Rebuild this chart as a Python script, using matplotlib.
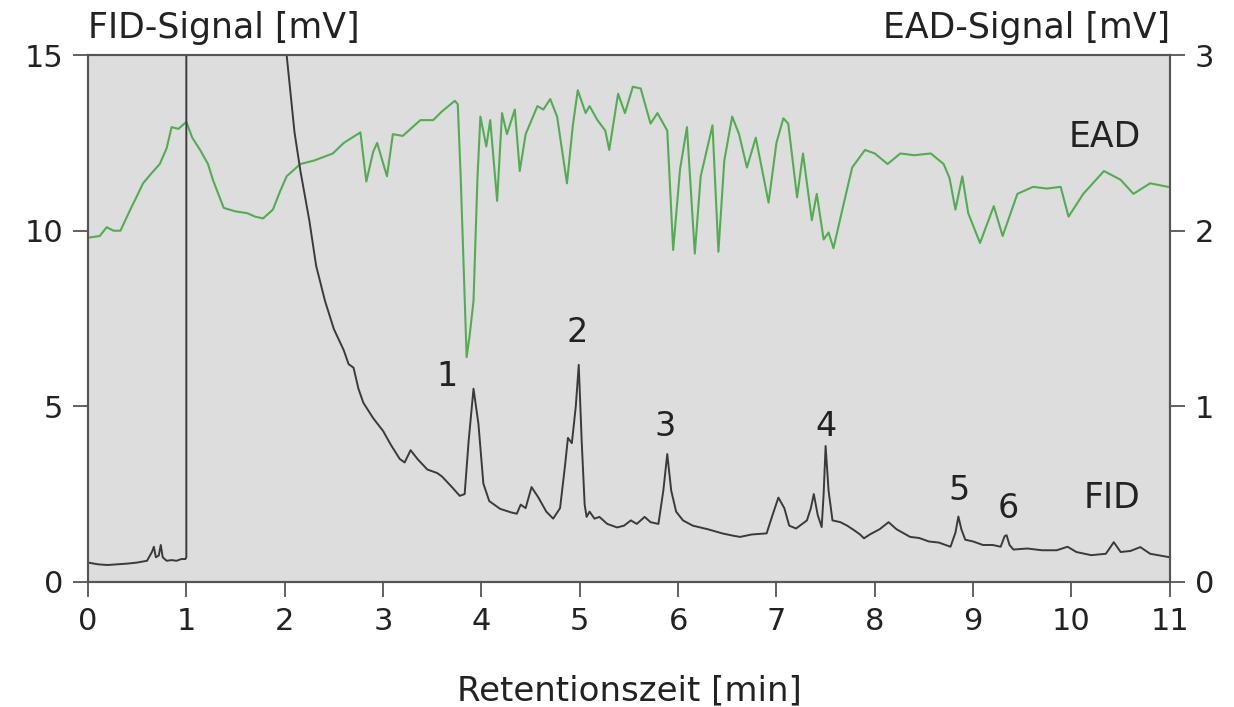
import matplotlib
matplotlib.use("Agg")
import matplotlib.pyplot as plt

# FID trace (left axis, mV)
fid_t = [0.0, 0.1, 0.2, 0.3, 0.4, 0.5, 0.6, 0.65, 0.67, 0.69, 0.72, 0.74, 0.76, 0.8,
         0.85, 0.9, 0.95, 0.99, 1.0, 1.0, 1.95, 2.02, 2.1, 2.16, 2.25, 2.32, 2.41, 2.5,
         2.6, 2.65, 2.7, 2.75, 2.8, 2.9, 3.0, 3.08, 3.17, 3.22, 3.28, 3.35, 3.45, 3.55,
         3.6, 3.7, 3.78, 3.83, 3.87, 3.92, 3.97, 4.02, 4.08, 4.19, 4.3, 4.36, 4.4, 4.45,
         4.51, 4.58, 4.66, 4.73, 4.8, 4.85, 4.88, 4.92, 4.96, 4.99, 5.02, 5.05, 5.07,
         5.1, 5.15, 5.2, 5.28, 5.38, 5.45, 5.52, 5.58, 5.66, 5.72, 5.8, 5.85, 5.89,
         5.93, 5.98, 6.05, 6.15, 6.3, 6.45, 6.55, 6.63, 6.75, 6.9, 6.96, 7.02, 7.08,
         7.13, 7.2, 7.31, 7.35, 7.38, 7.42, 7.46, 7.48, 7.5, 7.53, 7.57, 7.65, 7.72,
         7.79, 7.85, 7.89, 7.95, 8.05, 8.14, 8.22, 8.36, 8.45, 8.55, 8.65, 8.77, 8.82,
         8.85, 8.88, 8.92, 9.0, 9.1, 9.2, 9.28, 9.32, 9.34, 9.37, 9.41, 9.55, 9.7,
         9.85, 9.96, 10.05, 10.2, 10.35, 10.43, 10.5, 10.6, 10.7, 10.8, 10.9, 11.0]
fid_v = [0.55, 0.5, 0.48, 0.5, 0.52, 0.55, 0.6, 0.85, 1.0, 0.7, 0.75, 1.05, 0.7, 0.6,
         0.62, 0.6, 0.65, 0.65, 0.7, 17, 17, 15.0, 12.8, 11.7, 10.3, 9.0, 8.0, 7.2,
         6.6, 6.2, 6.1, 5.5, 5.1, 4.66, 4.3, 3.9, 3.5, 3.4, 3.75, 3.5, 3.2, 3.1,
         3.0, 2.7, 2.45, 2.5, 4.0, 5.5, 4.5, 2.8, 2.3, 2.08, 1.98, 1.94, 2.2, 2.1,
         2.7, 2.4, 2.0, 1.8, 2.1, 3.3, 4.1, 3.95, 5.0, 6.18, 4.0, 2.2, 1.85,
         2.0, 1.8, 1.85, 1.65, 1.55, 1.6, 1.75, 1.65, 1.85, 1.7, 1.65, 2.6, 3.64,
         2.6, 2.0, 1.75, 1.6, 1.5, 1.38, 1.32, 1.28, 1.35, 1.38, 1.9, 2.4, 2.1,
         1.6, 1.52, 1.75, 2.1, 2.5, 1.9, 1.56, 2.5, 3.87, 2.6, 1.75, 1.7, 1.6,
         1.47, 1.35, 1.24, 1.35, 1.5, 1.7, 1.5, 1.28, 1.25, 1.15, 1.12, 1.0, 1.4,
         1.86, 1.5, 1.2, 1.15, 1.05, 1.05, 1.0, 1.3, 1.33, 1.05, 0.92, 0.95, 0.9,
         0.9, 1.0, 0.85, 0.76, 0.8, 1.13, 0.85, 0.88, 0.99, 0.8, 0.75, 0.7]

# EAD trace (right axis, mV)
ead_t = [0.0, 0.12, 0.19, 0.26, 0.33, 0.43, 0.5, 0.56, 0.65, 0.73, 0.8, 0.85, 0.92,
         1.0, 1.06, 1.14, 1.22, 1.27, 1.38, 1.5, 1.62, 1.7, 1.78, 1.88, 1.95, 2.02,
         2.16, 2.3, 2.49, 2.6, 2.77, 2.83, 2.9, 2.94, 3.04, 3.1, 3.2, 3.38, 3.51, 3.6,
         3.73, 3.76, 3.79, 3.85, 3.88, 3.92, 3.96, 3.99, 4.05, 4.09, 4.16, 4.21, 4.26,
         4.34, 4.39, 4.45, 4.57, 4.63, 4.7, 4.77, 4.87, 4.93, 4.98, 5.06, 5.1, 5.18,
         5.26, 5.3, 5.39, 5.46, 5.54, 5.62, 5.72, 5.79, 5.89, 5.95, 6.02, 6.09, 6.17,
         6.23, 6.35, 6.41, 6.47, 6.55, 6.62, 6.7, 6.79, 6.92, 7.0, 7.07, 7.12, 7.21,
         7.27, 7.36, 7.41, 7.48, 7.53, 7.58, 7.67, 7.77, 7.9, 8.0, 8.13, 8.26, 8.4,
         8.57, 8.7, 8.76, 8.82, 8.89, 8.95, 9.07, 9.21, 9.3, 9.45, 9.61, 9.75, 9.89,
         9.97, 10.12, 10.33, 10.5, 10.63, 10.8, 10.98]
ead_v = [1.96, 1.97, 2.02, 2.0, 2.0, 2.12, 2.2, 2.27, 2.33, 2.38, 2.47, 2.59, 2.58,
         2.62, 2.53, 2.46, 2.38, 2.29, 2.13, 2.11, 2.1, 2.08, 2.07, 2.12, 2.22, 2.31,
         2.38, 2.4, 2.44, 2.5, 2.56, 2.28, 2.45, 2.5, 2.31, 2.55, 2.54, 2.63, 2.63, 2.68,
         2.74, 2.72, 2.3, 1.28, 1.4, 1.6, 2.3, 2.65, 2.48, 2.63, 2.17, 2.67, 2.55,
         2.69, 2.34, 2.55, 2.71, 2.69, 2.75, 2.65, 2.27, 2.6, 2.8, 2.67, 2.71, 2.63,
         2.57, 2.46, 2.78, 2.67, 2.82, 2.81, 2.61, 2.67, 2.57, 1.89, 2.35, 2.59, 1.87,
         2.31, 2.6, 1.88, 2.4, 2.65, 2.55, 2.36, 2.53, 2.16, 2.5, 2.64, 2.61, 2.19,
         2.44, 2.06, 2.21, 1.95, 1.99, 1.9, 2.12, 2.36, 2.46, 2.44, 2.38, 2.44, 2.43,
         2.44, 2.38, 2.3, 2.12, 2.31, 2.1, 1.93, 2.14, 1.97, 2.21, 2.25, 2.24, 2.25,
         2.08, 2.21, 2.34, 2.29, 2.21, 2.27, 2.25]

peak_labels = ["1", "2", "3", "4", "5", "6"]
peak_x = [3.65, 4.97, 5.87, 7.5, 8.86, 9.36]
peak_y = [5.85, 7.1, 4.43, 4.43, 2.6, 2.1]

spine_c = "#555555"
txt_c = "#222222"

fig = plt.figure(figsize=(12.34, 7.07), dpi=100)
ax = fig.add_axes([0.0713, 0.177, 0.8767, 0.745])
ax2 = ax.twinx()

# gray background on the lower (EAD) axes, FID drawn on top
ax2.patch.set_visible(True)
ax2.set_facecolor("#dddddd")
ax.set_zorder(ax2.get_zorder() + 1)
ax.patch.set_visible(False)

ax.plot(fid_t, fid_v, color="#3a3a3a", lw=1.4)
ax.set_xlim(0, 11)
ax.set_ylim(0, 15)
ax.set_xticks(range(0, 12))
ax.set_yticks([0, 5, 10, 15])

ax2.plot(ead_t, ead_v, color="#52ad52", lw=1.5)
ax2.set_ylim(0, 3)
ax2.set_yticks([0, 1, 2, 3])

for a in (ax, ax2):
    for s in a.spines.values():
        s.set_color(spine_c)
        s.set_linewidth(1.5)
    a.tick_params(direction="out", length=11, width=1.3, color=spine_c,
                  labelsize=22, labelcolor=txt_c, pad=7)

for lab, px, py in zip(peak_labels, peak_x, peak_y):
    ax.text(px, py, lab, fontsize=24, color=txt_c, ha="center", va="center")
ax.text(10.41, 2.4, "FID", fontsize=25, color=txt_c, ha="center", va="center")
ax.text(10.34, 12.66, "EAD", fontsize=25, color=txt_c, ha="center", va="center")

ax.text(0, 1.02, "FID-Signal [mV]", transform=ax.transAxes, fontsize=25,
        color=txt_c, ha="left", va="bottom")
ax.text(1, 1.02, "EAD-Signal [mV]", transform=ax.transAxes, fontsize=25,
        color=txt_c, ha="right", va="bottom")
ax.set_xlabel("Retentionszeit [min]", fontsize=24.5, color=txt_c, labelpad=28)

fig.savefig("out.png", dpi=100)
